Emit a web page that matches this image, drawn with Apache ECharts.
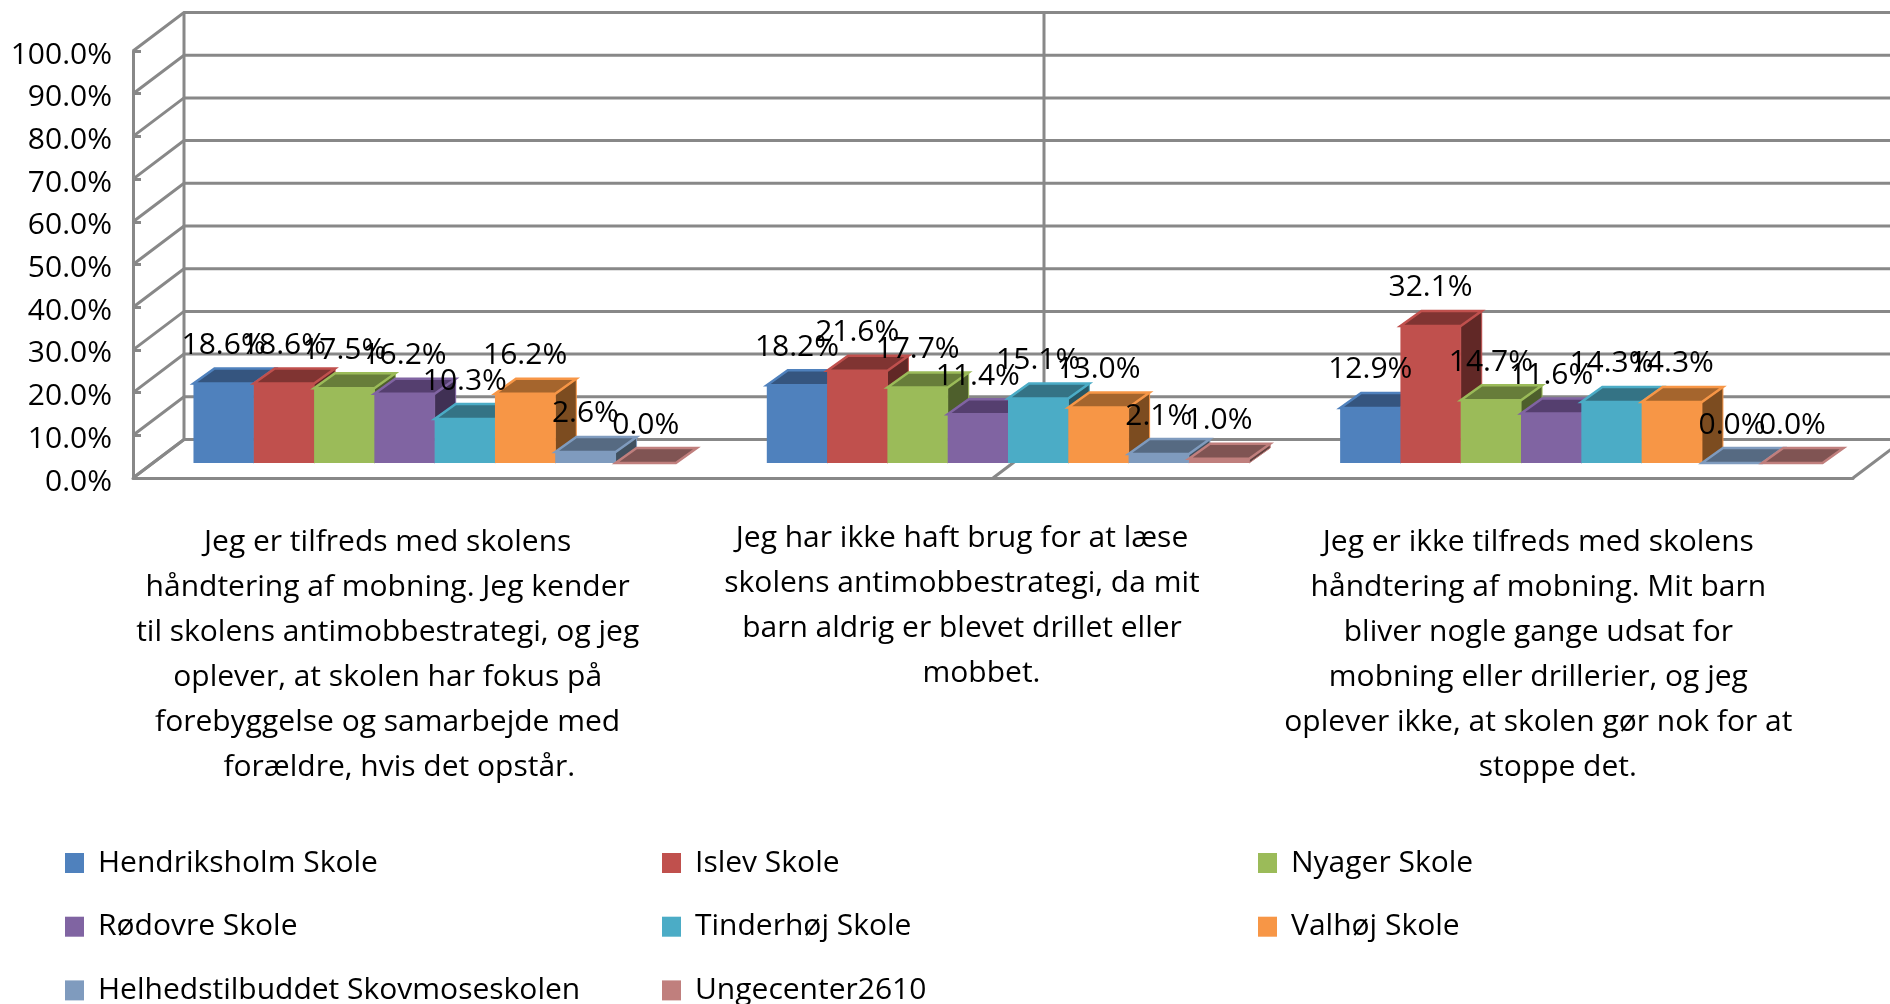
<!DOCTYPE html>
<html>
<head>
<meta charset="utf-8">
<style>
html, body { margin: 0; padding: 0; background: #fff; }
#chart { width: 1890px; height: 1004px; }
</style>
<script src="https://cdn.jsdelivr.net/npm/echarts@6/dist/echarts.min.js"></script>
</head>
<body>
<div id="chart"></div>
<script>
// data
var categories = [
    'Jeg er tilfreds med skolens\nhåndtering af mobning. Jeg kender\ntil skolens antimobbestrategi, og jeg\noplever, at skolen har fokus på\nforebyggelse og samarbejde med\n   forældre, hvis det opstår.',
    'Jeg har ikke haft brug for at læse\nskolens antimobbestrategi, da mit\nbarn aldrig er blevet drillet eller\n     mobbet.',
    'Jeg er ikke tilfreds med skolens\nhåndtering af mobning. Mit barn\nbliver nogle gange udsat for\nmobning eller drillerier, og jeg\noplever ikke, at skolen gør nok for at\n     stoppe det.'
];
var schools = ['Hendriksholm Skole', 'Islev Skole', 'Nyager Skole', 'Rødovre Skole', 'Tinderhøj Skole', 'Valhøj Skole', 'Helhedstilbuddet Skovmoseskolen', 'Ungecenter2610'];
var hendriksholm = [18.6, 18.2, 12.9];
var islev = [18.6, 21.6, 32.1];
var nyager = [17.5, 17.7, 14.7];
var roedovre = [16.2, 11.4, 11.6];
var tinderhoej = [10.3, 15.1, 14.3];
var valhoej = [16.2, 13.0, 14.3];
var skovmose = [2.6, 2.1, 0.0];
var ungecenter = [0.0, 1.0, 0.0];
var yTicks = [0, 10, 20, 30, 40, 50, 60, 70, 80, 90, 100];
var wallColumns = [0, 1.5, 3];

var seriesValues = [hendriksholm, islev, nyager, roedovre, tinderhoej, valhoej, skovmose, ungecenter];

// colours
var frontColors = ['#4F81BD', '#C0504D', '#9BBB59', '#8064A2', '#4BACC6', '#F79646', '#7F9BBE', '#C07F7D'];
var topColors = ['#35557F', '#803432', '#677D3A', '#553F6F', '#347385', '#A5652D', '#566A82', '#805453'];
var sideColors = ['#2A4364', '#612826', '#4E5F2C', '#403054', '#285764', '#7C4C20', '#41505F', '#61403F'];

var gridColor = '#888888';
var fontName = '"Open Sans", sans-serif';
var fontSize = 30;

// 3d look
var wallDx = 51, wallDy = -38.5;
var barDx = 15, barDy = -15;
var barW = 60.3;
var topDx = 21, topDy = -15;

function renderWallRow(params, api) {
    var band = api.size([1, 0])[0];
    var p = api.coord([0, api.value(0)]);
    var x0 = p[0] - band / 2;
    return {
        type: 'polyline',
        shape: { points: [[x0, p[1]], [x0 + wallDx, p[1] + wallDy], [x0 + 3 * band + wallDx, p[1] + wallDy]] },
        style: { stroke: gridColor, fill: 'none', lineWidth: 3 }
    };
}

function renderWallColumn(params, api) {
    var band = api.size([1, 0])[0];
    var k = api.value(0);
    var low = api.coord([0, 0]);
    var high = api.coord([0, 100]);
    var x = low[0] - band / 2 + k * band;
    return {
        type: 'polyline',
        shape: { points: [[x, low[1]], [x + wallDx, low[1] + wallDy], [x + wallDx, high[1] + wallDy]] },
        style: { stroke: gridColor, fill: 'none', lineWidth: 3 }
    };
}

function makeRenderBar(s) {
    return function (params, api) {
        var v = api.value(1);
        var base = api.coord([api.value(0), 0]);
        var top = api.coord([api.value(0), v]);
        var x1 = base[0] + barDx + (s - 4) * barW;
        var x2 = x1 + barW;
        var yb = base[1] + barDy;
        var yt = top[1] + barDy;
        return {
            type: 'group',
            children: [
                {
                    type: 'polygon',
                    shape: { points: [[x2, yb], [x2 + topDx, yb + topDy], [x2 + topDx, yt + topDy], [x2, yt]] },
                    style: { fill: sideColors[s], stroke: frontColors[s], lineWidth: 1 }
                },
                {
                    type: 'rect',
                    shape: { x: x1, y: yt, width: barW, height: yb - yt },
                    style: { fill: frontColors[s] }
                },
                {
                    type: 'polygon',
                    shape: { points: [[x1, yt], [x1 + topDx, yt + topDy], [x2 + topDx, yt + topDy], [x2, yt]] },
                    style: { fill: topColors[s], stroke: frontColors[s], lineWidth: 2.5 }
                },
                {
                    type: 'text',
                    z2: 100,
                    style: {
                        text: v.toFixed(1) + '%',
                        x: x1 + barW / 2,
                        y: yt - 38,
                        align: 'center',
                        verticalAlign: 'middle',
                        fill: '#000',
                        fontSize: fontSize,
                        fontFamily: fontName
                    }
                }
            ]
        };
    };
}

var series = [
    { type: 'custom', name: 'wallRows', z: 1, silent: true, renderItem: renderWallRow, data: yTicks.map(function (t) { return [t]; }), encode: { x: [], y: 0 } },
    { type: 'custom', name: 'wallCols', z: 1, silent: true, renderItem: renderWallColumn, data: wallColumns.map(function (k) { return [k]; }), encode: { x: [], y: [] } }
];
seriesValues.forEach(function (values, s) {
    series.push({
        type: 'custom',
        name: schools[s],
        itemStyle: { color: frontColors[s] },
        renderItem: makeRenderBar(s),
        data: values.map(function (v, i) { return [i, v]; }),
        encode: { x: 0, y: 1 }
    });
});

function legendColumn(names, left) {
    return {
        orient: 'vertical',
        left: left,
        top: 848,
        height: 300,
        padding: 0,
        itemWidth: 19,
        itemHeight: 20,
        itemGap: 33.7,
        icon: 'rect',
        selectedMode: false,
        textStyle: { fontSize: fontSize, fontFamily: fontName, color: '#000', lineHeight: 28, padding: [0, 0, 0, 9] },
        data: names
    };
}

var chart = echarts.init(document.getElementById('chart'));

var option = {
    animation: false,
    backgroundColor: '#fff',
    legend: [
        legendColumn([schools[0], schools[3], schools[6]], 65),
        legendColumn([schools[1], schools[4], schools[7]], 662),
        legendColumn([schools[2], schools[5]], 1258)
    ],
    grid: { left: 133, right: 37, top: 51, height: 427 },
    xAxis: {
        type: 'category',
        data: [
            { value: categories[0], textStyle: { padding: [4, 64, 0, 0] } },
            { value: categories[1], textStyle: { padding: [0, 62, 0, 0] } },
            { value: categories[2], textStyle: { padding: [4, 56, 0, 0] } }
        ],
        axisLine: { lineStyle: { color: gridColor, width: 3 } },
        axisTick: { inside: true, length: 9, alignWithLabel: false, lineStyle: { color: gridColor, width: 3 } },
        axisLabel: { interval: 0, margin: 38, lineHeight: 45, fontSize: fontSize, fontFamily: fontName, color: '#000', verticalAlign: 'top' }
    },
    yAxis: {
        type: 'value',
        min: 0,
        max: 100,
        interval: 10,
        axisLine: { show: true, lineStyle: { color: gridColor, width: 3 } },
        axisTick: { show: true, inside: true, length: 8, lineStyle: { color: gridColor, width: 3 } },
        splitLine: { show: false },
        axisLabel: {
            margin: 21,
            fontSize: fontSize,
            fontFamily: fontName,
            color: '#000',
            verticalAlign: 'top',
            lineHeight: 8,
            formatter: function (v) { return v.toFixed(1) + '%'; }
        }
    },
    series: series
};

chart.setOption(option);
</script>
</body>
</html>
